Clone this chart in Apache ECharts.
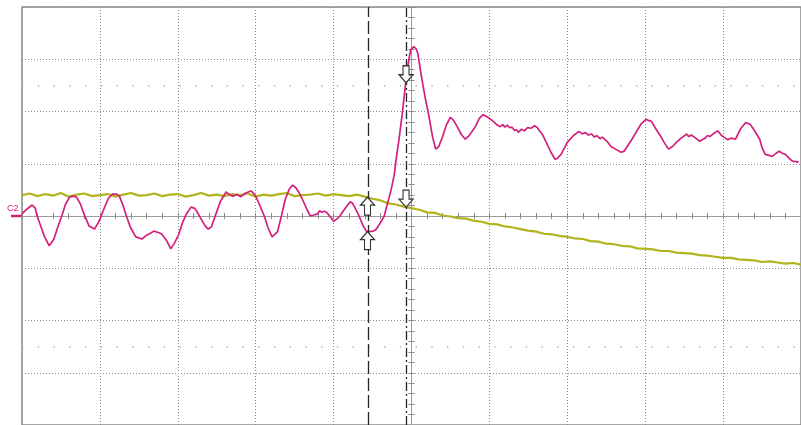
<!DOCTYPE html>
<html>
<head>
<meta charset="utf-8">
<script src="https://cdn.jsdelivr.net/npm/echarts@6/dist/echarts.min.js"></script>
<style>
  html, body { margin: 0; padding: 0; background: #ffffff; }
  #scope { width: 801px; height: 425px; }
</style>
</head>
<body>
<div id="scope"></div>
<script>
// Screen: 10 horizontal divisions (-5..5) by 8 vertical divisions (-4..4).
const xDivs = [-5, 5];
const yDivs = [-4, 4];

// Channel 1 (yellow), sampled every 0.1 division starting at the left edge.
const ch1Start = -5;
const ch1Step = 0.1;
const ch1Level = [
  0.40, 0.43, 0.38, 0.42, 0.39, 0.44, 0.37, 0.41, 0.43, 0.38,
  0.40, 0.42, 0.37, 0.41, 0.44, 0.39, 0.40, 0.43, 0.38, 0.41,
  0.42, 0.37, 0.40, 0.44, 0.39, 0.41, 0.38, 0.42, 0.40, 0.43,
  0.37, 0.41, 0.39, 0.42, 0.44, 0.38, 0.40, 0.41, 0.43, 0.39,
  0.42, 0.40, 0.38, 0.41, 0.37, 0.33, 0.30, 0.24, 0.22, 0.18,
  0.15, 0.12, 0.07, 0.06, 0.01, -0.01, -0.04, -0.05, -0.09, -0.11,
  -0.15, -0.16, -0.20, -0.22, -0.25, -0.28, -0.30, -0.34, -0.35, -0.38,
  -0.40, -0.43, -0.44, -0.48, -0.49, -0.53, -0.54, -0.57, -0.58, -0.62,
  -0.63, -0.64, -0.67, -0.67, -0.70, -0.71, -0.72, -0.75, -0.76, -0.78,
  -0.80, -0.80, -0.83, -0.84, -0.85, -0.88, -0.87, -0.89, -0.91, -0.90,
  -0.93
];

// Channel 2 (magenta): [time div, level div]
const ch2Samples = [
  [-5.00, 0.04], [-4.94, 0.13], [-4.87, 0.21], [-4.83, 0.15], [-4.81, 0.02],
  [-4.76, -0.19], [-4.71, -0.40], [-4.65, -0.57], [-4.59, -0.44], [-4.54, -0.21],
  [-4.49, 0.00], [-4.44, 0.23], [-4.39, 0.36], [-4.35, 0.38], [-4.30, 0.36],
  [-4.25, 0.23], [-4.20, 0.02], [-4.14, -0.19], [-4.07, -0.25], [-4.01, -0.10],
  [-3.95, 0.13], [-3.89, 0.34], [-3.84, 0.42], [-3.79, 0.42], [-3.75, 0.38],
  [-3.70, 0.19], [-3.66, 0.00], [-3.61, -0.21], [-3.54, -0.40], [-3.46, -0.44],
  [-3.42, -0.39], [-3.39, -0.36], [-3.35, -0.33], [-3.31, -0.29], [-3.26, -0.31],
  [-3.21, -0.34], [-3.14, -0.48], [-3.09, -0.63], [-3.04, -0.51], [-2.99, -0.36],
  [-2.94, -0.13], [-2.89, 0.04], [-2.83, 0.17], [-2.79, 0.15], [-2.76, 0.10],
  [-2.70, -0.06], [-2.65, -0.19], [-2.61, -0.25], [-2.57, -0.21], [-2.51, 0.04],
  [-2.45, 0.29], [-2.38, 0.46], [-2.33, 0.40], [-2.29, 0.38], [-2.24, 0.41],
  [-2.19, 0.37], [-2.13, 0.44], [-2.06, 0.48], [-2.03, 0.44], [-2.00, 0.38],
  [-1.95, 0.21], [-1.89, 0.00], [-1.84, -0.23], [-1.79, -0.40], [-1.72, -0.30],
  [-1.67, 0.00], [-1.62, 0.32], [-1.57, 0.51], [-1.53, 0.59], [-1.49, 0.55],
  [-1.44, 0.44], [-1.40, 0.32], [-1.35, 0.15], [-1.30, 0.00], [-1.25, 0.02],
  [-1.21, 0.04], [-1.18, 0.10], [-1.15, 0.07], [-1.12, 0.09], [-1.09, 0.07],
  [-1.04, -0.02], [-1.00, -0.10], [-0.96, -0.06], [-0.92, 0.00], [-0.86, 0.13],
  [-0.79, 0.27], [-0.76, 0.25], [-0.73, 0.17], [-0.68, 0.02], [-0.62, -0.19],
  [-0.58, -0.29], [-0.54, -0.30], [-0.49, -0.29], [-0.45, -0.25], [-0.40, -0.13],
  [-0.35, 0.00], [-0.31, 0.23], [-0.26, 0.51], [-0.22, 0.80], [-0.20, 1.05],
  [-0.16, 1.47], [-0.12, 1.94], [-0.07, 2.61], [-0.03, 3.03], [-0.01, 3.18],
  [0.03, 3.24], [0.06, 3.20], [0.08, 3.12], [0.13, 2.65], [0.18, 2.23],
  [0.22, 1.94], [0.27, 1.52], [0.31, 1.28], [0.35, 1.33], [0.40, 1.52],
  [0.45, 1.75], [0.50, 1.89], [0.54, 1.83], [0.59, 1.70], [0.64, 1.56],
  [0.69, 1.47], [0.74, 1.54], [0.82, 1.71], [0.87, 1.87], [0.92, 1.94],
  [0.98, 1.89], [1.05, 1.81], [1.10, 1.74], [1.14, 1.71], [1.17, 1.75],
  [1.20, 1.70], [1.23, 1.74], [1.26, 1.69], [1.29, 1.70], [1.32, 1.64],
  [1.35, 1.65], [1.37, 1.60], [1.41, 1.66], [1.45, 1.63], [1.49, 1.69],
  [1.54, 1.68], [1.58, 1.73], [1.62, 1.68], [1.68, 1.56], [1.73, 1.41],
  [1.79, 1.22], [1.84, 1.09], [1.87, 1.10], [1.92, 1.18], [2.00, 1.41],
  [2.08, 1.54], [2.15, 1.62], [2.19, 1.57], [2.23, 1.60], [2.27, 1.55],
  [2.31, 1.57], [2.35, 1.51], [2.38, 1.54], [2.42, 1.48], [2.45, 1.51],
  [2.51, 1.43], [2.56, 1.33], [2.62, 1.28], [2.69, 1.22], [2.73, 1.24],
  [2.76, 1.31], [2.83, 1.47], [2.89, 1.62], [2.95, 1.77], [3.01, 1.85],
  [3.04, 1.83], [3.08, 1.81], [3.14, 1.66], [3.20, 1.52], [3.25, 1.39],
  [3.30, 1.28], [3.35, 1.33], [3.40, 1.41], [3.46, 1.49], [3.50, 1.53],
  [3.53, 1.57], [3.56, 1.52], [3.59, 1.55], [3.64, 1.50], [3.70, 1.43],
  [3.74, 1.47], [3.77, 1.49], [3.80, 1.54], [3.83, 1.52], [3.88, 1.58],
  [3.93, 1.63], [3.98, 1.54], [4.02, 1.50], [4.06, 1.46], [4.10, 1.49],
  [4.16, 1.47], [4.22, 1.66], [4.29, 1.79], [4.35, 1.75], [4.40, 1.64],
  [4.47, 1.47], [4.50, 1.31], [4.54, 1.18], [4.59, 1.16], [4.63, 1.14],
  [4.68, 1.20], [4.72, 1.24], [4.76, 1.20], [4.80, 1.18], [4.85, 1.10],
  [4.89, 1.05], [4.97, 1.03]
];

// Bar cursors (time, div) and where each one crosses the two traces.
const cursorTime = [-0.565, -0.07];
const cursorCh1 = [0.36, 0.17];
const cursorCh2 = [-0.30, 2.55];

// Rows of graticule marks at +/-2.5 div.
const markRows = [2.5, -2.5];

const colCh1 = '#b3b31e';
const colCh2 = '#d3207d';
const colGrid = '#8c8c8c';

const ch1Data = ch1Level.map((v, i) => [ch1Start + i * ch1Step, v]);

const upArrow = 'path://M7,0 L14,8 L10,8 L10,18 L4,18 L4,8 L0,8 Z';
const downArrow = 'path://M4,0 L10,0 L10,9 L14,9 L7,17 L0,9 L4,9 Z';

const chart = echarts.init(document.getElementById('scope'), null, { renderer: 'canvas' });

const centreTick = { show: true, length: 3, lineStyle: { color: '#8a8a8a', width: 1 } };
const centreMinor = { show: true, splitNumber: 5, length: 3, lineStyle: { color: '#8a8a8a', width: 1 } };

function xAxisDef(pos, showGrid) {
  return {
    type: 'value', min: xDivs[0], max: xDivs[1], interval: 1, position: pos,
    axisLine: { show: true, onZero: true, onZeroAxisIndex: 0, lineStyle: { color: '#9a9a9a', width: 1 } },
    axisTick: centreTick, minorTick: centreMinor,
    axisLabel: { show: false },
    splitLine: { show: showGrid, lineStyle: { color: colGrid, width: 1, type: [1, 2] } },
    minorSplitLine: { show: false }
  };
}
function yAxisDef(pos, showGrid) {
  return {
    type: 'value', min: yDivs[0], max: yDivs[1], interval: 1, position: pos,
    axisLine: { show: true, onZero: true, onZeroAxisIndex: 0, lineStyle: { color: '#9a9a9a', width: 1 } },
    axisTick: centreTick, minorTick: centreMinor,
    axisLabel: { show: false },
    splitLine: { show: showGrid, lineStyle: { color: colGrid, width: 1, type: [1, 2] } },
    minorSplitLine: { show: false }
  };
}

chart.setOption({
  animation: false,
  backgroundColor: '#ffffff',
  grid: {
    left: 22, top: 7, width: 787, height: 420,
    show: true, borderColor: '#8a8a8a', borderWidth: 1.5, backgroundColor: 'transparent'
  },
  xAxis: [xAxisDef('bottom', true), xAxisDef('top', false)],
  yAxis: [yAxisDef('left', true), yAxisDef('right', false)],
  series: [
    {
      name: 'marks', type: 'line', data: [], silent: true,
      markLine: {
        silent: true, symbol: 'none', label: { show: false },
        lineStyle: { color: '#b5b5b5', width: 1.5, type: [1.5, 14.24] },
        data: markRows.map(v => ({ yAxis: v }))
      }
    },
    {
      name: 'C1', type: 'line', data: ch1Data, showSymbol: false, clip: true,
      lineStyle: { color: colCh1, width: 2.2 }, z: 3
    },
    {
      name: 'C2', type: 'line', data: ch2Samples, showSymbol: false, clip: true,
      lineStyle: { color: colCh2, width: 1.7 }, z: 4
    },
    {
      name: 'cursors', type: 'line', data: [], silent: true, z: 5,
      markLine: {
        silent: true, symbol: 'none', label: { show: false },
        data: [
          { xAxis: cursorTime[0], lineStyle: { color: '#262626', width: 1.3, type: [13, 4] } },
          { xAxis: cursorTime[1], lineStyle: { color: '#262626', width: 1.3, type: [9, 3, 2, 3] } }
        ]
      }
    },
    {
      name: 'cursor A', type: 'scatter', z: 6, silent: true,
      symbol: upArrow, symbolSize: [14, 18], symbolOffset: [0, 9],
      itemStyle: { color: '#ffffff', borderColor: '#333333', borderWidth: 1.2, opacity: 1 },
      data: [[cursorTime[0], cursorCh1[0]], [cursorTime[0], cursorCh2[0]]]
    },
    {
      name: 'cursor B', type: 'scatter', z: 6, silent: true,
      symbol: downArrow, symbolSize: [14, 17], symbolOffset: [0, -8.5],
      itemStyle: { color: '#ffffff', borderColor: '#333333', borderWidth: 1.2, opacity: 1 },
      data: [[cursorTime[1], cursorCh1[1]], [cursorTime[1], cursorCh2[1]]]
    }
  ]
});

// Channel 2 ground reference marker at the left edge of the screen.
const ref = chart.convertToPixel({ gridIndex: 0 }, [xDivs[0], 0]);
chart.setOption({
  graphic: [
    {
      type: 'line', silent: true,
      shape: { x1: ref[0] - 11, y1: ref[1], x2: ref[0], y2: ref[1] },
      style: { stroke: colCh2, lineWidth: 2.5 }
    },
    {
      type: 'text', silent: true, x: ref[0] - 15, y: ref[1] - 12,
      style: { text: 'C2', fill: colCh2, font: '9px "Liberation Sans", Arial, sans-serif' }
    }
  ]
});
</script>
</body>
</html>
